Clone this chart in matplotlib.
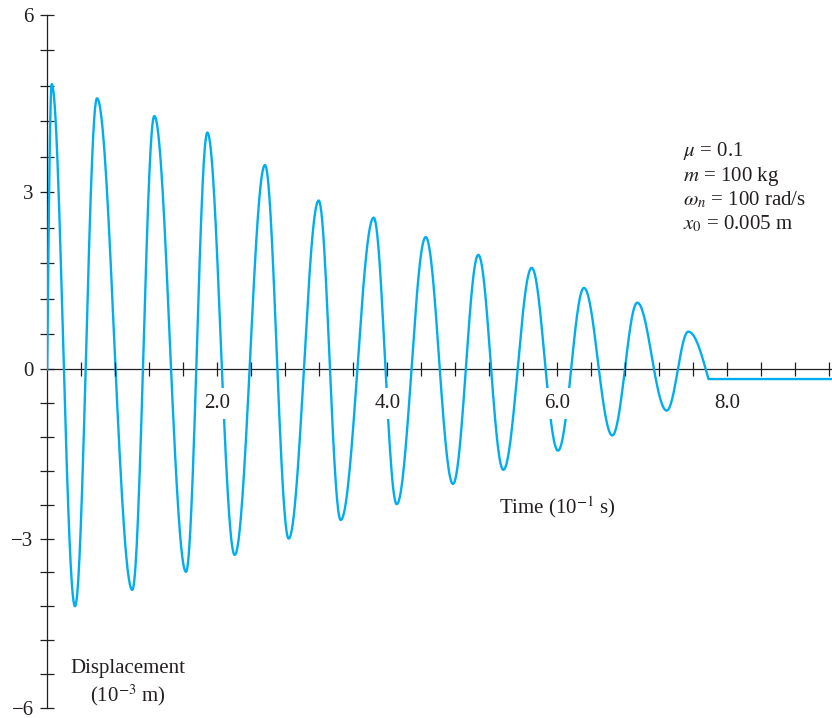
import numpy as np
import matplotlib
matplotlib.use("Agg")
import matplotlib.pyplot as plt

# turning points of the response
# time in 10^-1 s, displacement in 10^-3 m
extrema_time = [0.053, 0.327, 0.586, 1.001, 1.260, 1.633, 1.884, 2.206, 2.562, 2.841,
                3.194, 3.453, 3.841, 4.112, 4.453, 4.774, 5.072, 5.366, 5.700, 6.009,
                6.315, 6.648, 6.942, 7.288, 7.542]
extrema_disp = [4.83, -4.20, 4.59, -3.91, 4.29, -3.59, 4.01, -3.29, 3.46, -3.00,
                2.86, -2.67, 2.57, -2.39, 2.24, -2.03, 1.94, -1.78, 1.72, -1.44,
                1.38, -1.17, 1.13, -0.73, 0.64]
stop_time = 7.780      # mass sticks here
rest_disp = -0.17      # final rest position

params = [r"$\mu$ = 0.1", r"$m$ = 100 kg", r"$\omega_n$ = 100 rad/s", r"$x_0$ = 0.005 m"]
xtick_vals = np.arange(0.4, 9.25, 0.4)
xlabeled = [2.0, 4.0, 6.0, 8.0]
ytick_vals = [-6, -3, 0, 3, 6]

INK = "#231F20"
CYAN = "#00AEEF"
W, H = 832, 718

plt.rcParams["font.family"] = ["Liberation Serif", "DejaVu Serif"]
plt.rcParams["mathtext.fontset"] = "stix"


def half_wave(t0, y0, t1, y1, n=60):
    # smooth half cosine joining two turning points
    s = np.linspace(0, 1, n)
    return t0 + (t1 - t0) * s, y1 + (y0 - y1) * (1 + np.cos(np.pi * s)) / 2


# build the trace from the turning points
ts, ys = [], []
s = np.linspace(0, 1, 40)
ts.append(extrema_time[0] * s)
ys.append(extrema_disp[0] * np.sin(np.pi / 2 * s))
for i in range(len(extrema_time) - 1):
    t, y = half_wave(extrema_time[i], extrema_disp[i], extrema_time[i + 1], extrema_disp[i + 1])
    ts.append(t)
    ys.append(y)
ts.append(extrema_time[-1] + (stop_time - extrema_time[-1]) * s)
ys.append(rest_disp + (extrema_disp[-1] - rest_disp) * np.cos(np.pi / 2 * s))
ts.append(np.array([stop_time, 9.4]))
ys.append(np.array([rest_disp, rest_disp]))
t_all = np.concatenate(ts)
y_all = np.concatenate(ys)

fig = plt.figure(figsize=(W / 100, H / 100), dpi=100)
x0_px, y_top, y_bot = 47.2, 15.0, 707.7
ax = fig.add_axes([x0_px / W, 1 - y_bot / H, (W - x0_px) / W, (y_bot - y_top) / H])

# the printed figure is stretched a little more above zero than below
NEG = 56.3 / 59.0
ax.set_yscale("function", functions=(lambda y: np.where(y < 0, y * NEG, y),
                                     lambda y: np.where(y < 0, y / NEG, y)))

ax.plot(t_all, y_all, color=CYAN, lw=1.7, zorder=3, solid_joinstyle="round")

ax.set_xlim(0, (W - x0_px) / 85.0)
ax.set_ylim(-6, 6)

for side in ["top", "right"]:
    ax.spines[side].set_visible(False)
ax.spines["left"].set_position(("data", 0))
ax.spines["bottom"].set_position(("data", 0))
for side in ["left", "bottom"]:
    ax.spines[side].set_color(INK)
    ax.spines[side].set_linewidth(0.9)

ax.set_xticks(xtick_vals)
ax.set_xticklabels([f"{v:.1f}" if any(abs(v - l) < 1e-6 for l in xlabeled) else ""
                    for v in xtick_vals])
ax.set_yticks(ytick_vals)
ax.set_yticklabels([str(v).replace("-", "\u2212") for v in ytick_vals])
ax.set_yticks(np.arange(-6, 6.01, 0.6), minor=True)

ax.tick_params(axis="both", which="both", direction="inout", length=9.5, width=0.9,
               color=INK, labelcolor=INK, labelsize=15)
ax.tick_params(axis="x", pad=13)
ax.tick_params(axis="y", pad=5)
ax.xaxis.set_zorder(4)
for lab in ax.get_xticklabels():
    lab.set_bbox(dict(facecolor="white", edgecolor="none", pad=4))

ax.patch.set_visible(False)

for i, txt in enumerate(params):
    fig.text(683 / W, 1 - (156.5 + 24.2 * i) / H, txt, fontsize=15, color=INK,
             ha="left", va="baseline")

fig.text(499 / W, 1 - 513.3 / H, r"Time (10$^{-1}$ s)", fontsize=15, color=INK,
         ha="left", va="baseline")
fig.text(128.3 / W, 1 - 673.3 / H, "Displacement", fontsize=15, color=INK,
         ha="center", va="baseline")
fig.text(128.3 / W, 1 - 701.7 / H, r"(10$^{-3}$ m)", fontsize=15, color=INK,
         ha="center", va="baseline")

fig.savefig("out.png", dpi=100)
